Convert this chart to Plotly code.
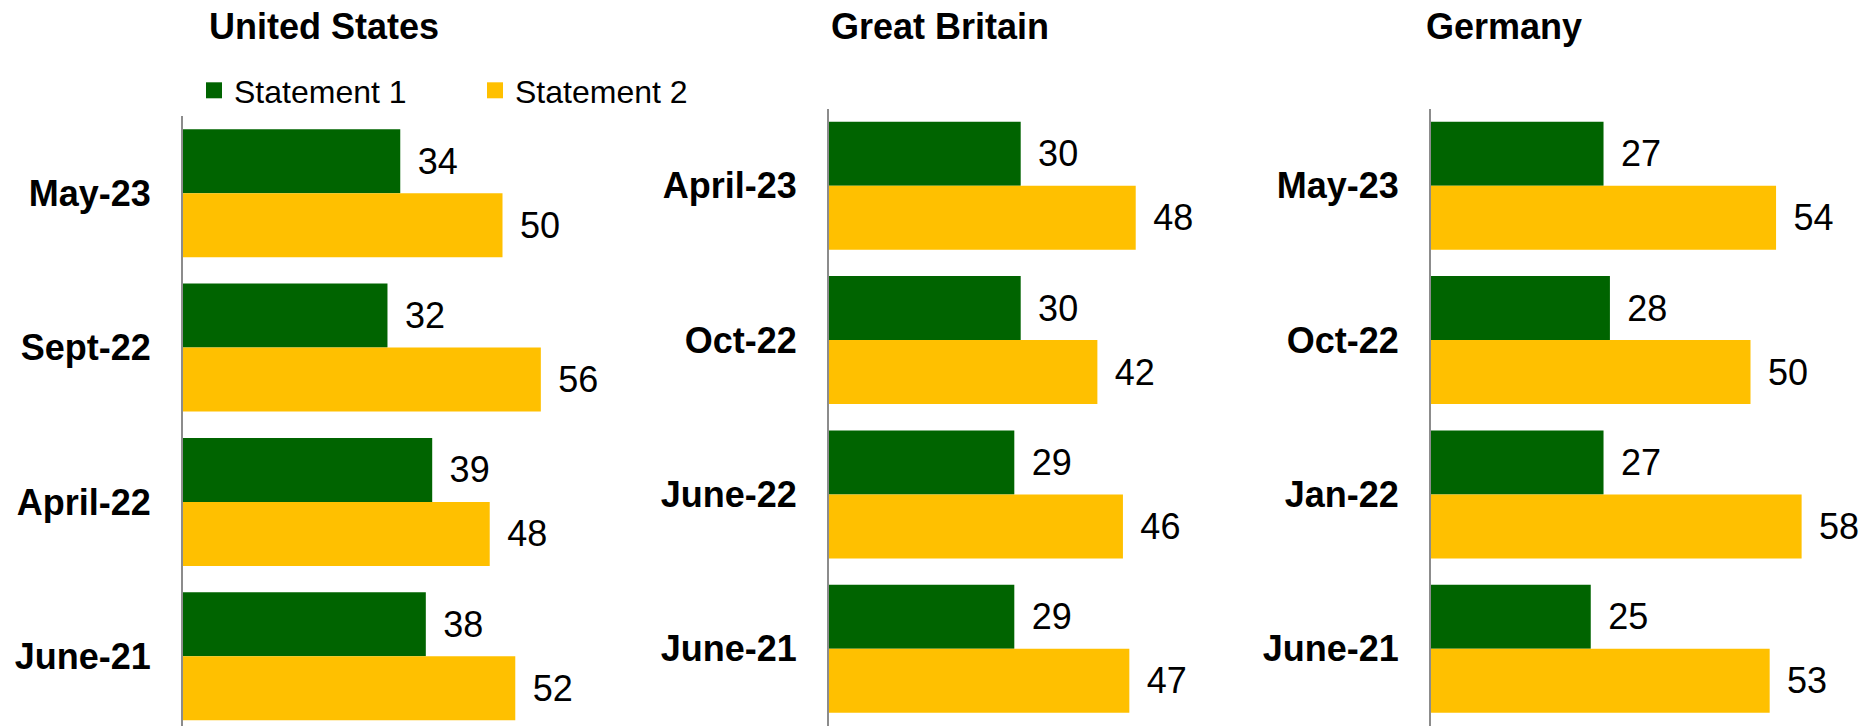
import plotly.graph_objects as go

# Survey waves per country (top to bottom) and the share agreeing with each statement
countries = ["United States", "Great Britain", "Germany"]
waves = {
    "United States": ["May-23", "Sept-22", "April-22", "June-21"],
    "Great Britain": ["April-23", "Oct-22", "June-22", "June-21"],
    "Germany": ["May-23", "Oct-22", "Jan-22", "June-21"],
}
statement1 = {
    "United States": [34, 32, 39, 38],
    "Great Britain": [30, 30, 29, 29],
    "Germany": [27, 28, 27, 25],
}
statement2 = {
    "United States": [50, 56, 48, 52],
    "Great Britain": [48, 42, 46, 47],
    "Germany": [54, 50, 58, 53],
}
series_names = ["Statement 1", "Statement 2"]
series_colors = ["#006400", "#FFC000"]

W, H = 1864, 726
FONT = "Liberation Sans, Arial, sans-serif"

# panel geometry in pixels: left edge of the value axis, top of the plot area,
# lower end of the category range, and the left edge of the panel title
panels = {
    "United States": dict(left=183, top=116, ybottom=3.451, title_x=207),
    "Great Britain": dict(left=829, top=108.5, ybottom=3.5, title_x=829),
    "Germany": dict(left=1431, top=108.5, ybottom=3.5, title_x=1424),
}
XMAX = 66
PX_PER_UNIT = 6.39

fig = go.Figure()
annotations = []
for i, c in enumerate(countries):
    p = panels[c]
    ax = "" if i == 0 else str(i + 1)
    for name, col, vals in zip(series_names, series_colors, [statement1[c], statement2[c]]):
        fig.add_trace(go.Bar(
            x=vals, y=waves[c], orientation="h", name=name,
            marker=dict(color=col, line=dict(width=0)),
            texttemplate="\u2009\u2009%{x}", textposition="outside",
            textfont=dict(family=FONT, size=36, color="#000000"),
            cliponaxis=False, showlegend=False,
            xaxis="x" + ax, yaxis="y" + ax, hoverinfo="skip",
        ))
    x0 = p["left"] / W
    x1 = (p["left"] + XMAX * PX_PER_UNIT) / W
    fig.update_layout(**{
        "xaxis" + ax: dict(domain=[x0, x1], range=[0, XMAX], visible=False,
                           anchor="y" + ax),
        "yaxis" + ax: dict(domain=[0, (H - p["top"]) / H], anchor="x" + ax,
                           type="category", categoryarray=waves[c],
                           range=[p["ybottom"], -0.5],
                           showline=True, linecolor="#8c8c8c", linewidth=2,
                           showgrid=False, zeroline=False, ticks="",
                           ticklabelstandoff=23,
                           tickfont=dict(family=FONT, size=36, color="#000000",
                                         weight="bold")),
    })
    annotations.append(dict(
        text="<b>%s</b>" % c, xref="paper", yref="paper",
        x=p["title_x"] / W, y=1 - 27 / H, xanchor="left", yanchor="middle",
        showarrow=False, font=dict(family=FONT, size=36, color="#000000"),
    ))

# legend entries
for name, col in zip(series_names, series_colors):
    fig.add_trace(go.Scatter(
        x=[None], y=[None], mode="markers", name=name,
        marker=dict(symbol="square", size=16, color=col),
        xaxis="x", yaxis="y", showlegend=True,
    ))

fig.update_layout(
    width=W, height=H,
    margin=dict(l=0, r=0, t=0, b=0),
    paper_bgcolor="white", plot_bgcolor="white",
    barmode="group", bargap=0.171, bargroupgap=0,
    annotations=annotations,
    legend=dict(orientation="h", x=194 / W, xanchor="left",
                y=1 - 90.5 / H, yanchor="middle",
                font=dict(family=FONT, size=32, color="#000000"),
                entrywidth=236, entrywidthmode="pixels",
                bgcolor="rgba(0,0,0,0)", borderwidth=0,
                itemsizing="trace"),
    showlegend=True,
)

fig.write_html("out.html")
